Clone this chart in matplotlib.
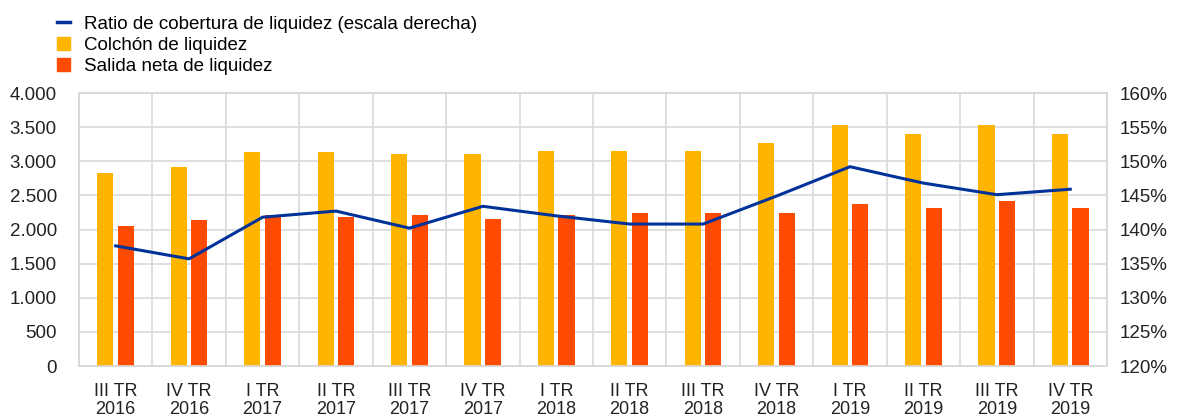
import matplotlib
matplotlib.use("Agg")
import matplotlib.pyplot as plt
import numpy as np
from matplotlib.ticker import FuncFormatter, MultipleLocator, FixedLocator
from matplotlib.lines import Line2D
from matplotlib.patches import Patch

plt.rcParams['font.family'] = ['Liberation Sans', 'DejaVu Sans']

categories = ["III TR\n2016", "IV TR\n2016", "I TR\n2017", "II TR\n2017", "III TR\n2017",
              "IV TR\n2017", "I TR\n2018", "II TR\n2018", "III TR\n2018", "IV TR\n2018",
              "I TR\n2019", "II TR\n2019", "III TR\n2019", "IV TR\n2019"]
colchon = [2830, 2920, 3135, 3135, 3105, 3105, 3150, 3150, 3150, 3265, 3530, 3400, 3530, 3400]
salida = [2050, 2140, 2210, 2185, 2210, 2155, 2210, 2240, 2240, 2240, 2375, 2315, 2420, 2315]
ratio = [137.6, 135.7, 141.8, 142.7, 140.2, 143.4, 142.0, 140.8, 140.8, 144.9, 149.2, 146.8, 145.1, 145.9]

label_ratio = "Ratio de cobertura de liquidez (escala derecha)"
label_colchon = "Colchón de liquidez"
label_salida = "Salida neta de liquidez"

c_yellow = "#FFB400"
c_red = "#FF4B00"
c_blue = "#003299"
c_grid = "#d9d9d9"
c_text = "#222222"

fs = 13.5

fig = plt.figure(figsize=(11.77, 4.18), dpi=100)
ax = fig.add_axes([0.0671, 0.1244, 0.8734, 0.6531])
ax2 = ax.twinx()

x = np.arange(len(categories))
w = 0.22
off = 0.14
ax.bar(x - off, colchon, width=w, color=c_yellow, zorder=3)
ax.bar(x + off, salida, width=w, color=c_red, zorder=3)
ax2.plot(x, ratio, color=c_blue, lw=2.2, zorder=4)

ax.set_xlim(-0.5, len(categories) - 0.5)
ax.set_ylim(0, 4000)
ax2.set_ylim(120, 160)
ax.yaxis.set_major_locator(MultipleLocator(500))
ax2.yaxis.set_major_locator(MultipleLocator(5))
ax.yaxis.set_major_formatter(FuncFormatter(lambda v, p: f"{int(v):,}".replace(",", ".")))
ax2.yaxis.set_major_formatter(FuncFormatter(lambda v, p: f"{int(v)}%"))

ax.set_xticks(x)
ax.set_xticklabels(categories, fontsize=13, color=c_text, linespacing=1.08)
ax.xaxis.set_minor_locator(FixedLocator(np.arange(-0.5, len(categories), 1.0)))
ax.grid(True, axis='y', which='major', color=c_grid, lw=1.2, zorder=0)
ax.grid(True, axis='x', which='minor', color=c_grid, lw=1.2, zorder=0)
ax.grid(False, axis='x', which='major')
ax.set_axisbelow(True)
ax.tick_params(axis='y', which='both', length=0, labelsize=fs, labelcolor=c_text, pad=16)
ax.tick_params(axis='x', which='both', length=0, labelcolor=c_text, pad=12)
ax2.tick_params(axis='y', length=0, labelsize=fs, labelcolor=c_text, pad=9)
for a in (ax, ax2):
    for s in a.spines.values():
        s.set_color(c_grid)
        s.set_linewidth(1.2)

handles = [Line2D([0], [0], color=c_blue, lw=2.5),
           Patch(color=c_yellow), Patch(color=c_red)]
fig.legend(handles, [label_ratio, label_colchon, label_salida], loc='upper left',
           bbox_to_anchor=(0.036, 0.998), frameon=False, fontsize=fs,
           handlelength=0.65, handleheight=0.7, handletextpad=0.75, labelspacing=0.2,
           borderpad=0.3)

fig.savefig("out.png", dpi=100)
